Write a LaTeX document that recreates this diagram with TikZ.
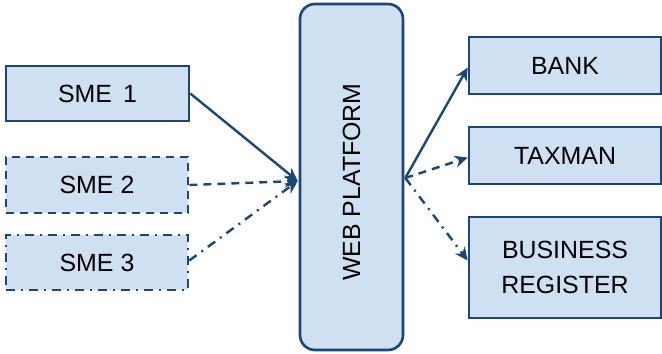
\documentclass[tikz,border=0pt]{standalone}
\usepackage{fontspec}
\setmainfont{Liberation Sans}
\usepackage{tikz}
\usetikzlibrary{arrows.meta,calc}
\usepackage{xcolor}
\definecolor{boxfill}{HTML}{CFE0F2}
\definecolor{boxline}{HTML}{1B4675}

\begin{document}
\begin{tikzpicture}[x=1bp, y=1bp,
  unit/.style={draw=boxline, fill=boxfill, line width=2.6bp, inner sep=0pt,
    font=\fontsize{25}{35}\selectfont, align=center},
  link/.style={draw=boxline, line width=2.4bp, -{Stealth[length=13bp,width=12bp]}},
  dashline/.style={dash pattern=on 8bp off 6bp},
  dotline/.style={dash pattern=on 9bp off 6bp on 2bp off 6bp}]
  \useasboundingbox (0,0) rectangle (662,353);
  % KMU links
  \node[unit, minimum width=183bp, minimum height=55bp] (sme1) at (97.5,259.5) {SME\,\ 1};
  \node[unit, dashline, minimum width=182bp, minimum height=56bp] (sme2) at (97,168) {SME 2};
  \node[unit, dotline, minimum width=182bp, minimum height=55bp] (sme3) at (97,90.5) {SME 3};
  % Plattform in der Mitte
  \node[unit, rounded corners=15bp, minimum width=103bp, minimum height=346bp] (web) at (351.5,176)
    {\raisebox{0pt}{\rotatebox{90}{WEB PLATFORM\hspace{10bp}}}};
  % Stellen rechts
  \node[unit, minimum width=192bp, minimum height=57bp] (bank) at (565,287.5) {BANK};
  \node[unit, minimum width=192bp, minimum height=57bp] (taxman) at (565,197.5) {TAXMAN};
  \node[unit, minimum width=192bp, minimum height=101bp] (busreg) at (565,85.5) {BUSINESS\\REGISTER};
  % Verbindungen
  \coordinate (hubin) at ($(web.west)+(-1,-4)$);
  \coordinate (hubout) at ($(web.east)+(1,-1)$);
  \draw[link] (sme1.east) -- (hubin);
  \draw[link, dashline] (sme2.east) -- (hubin);
  \draw[link, dotline] ($(sme3.east)+(0,2)$) -- (hubin);
  \draw[link] (hubout) -- ($(bank.west)+(0,-2)$);
  \draw[link, dashline] (hubout) -- ($(taxman.west)+(0,-2)$);
  \draw[link, dotline] (hubout) -- ($(busreg.west)+(0,7)$);
\end{tikzpicture}
\end{document}
